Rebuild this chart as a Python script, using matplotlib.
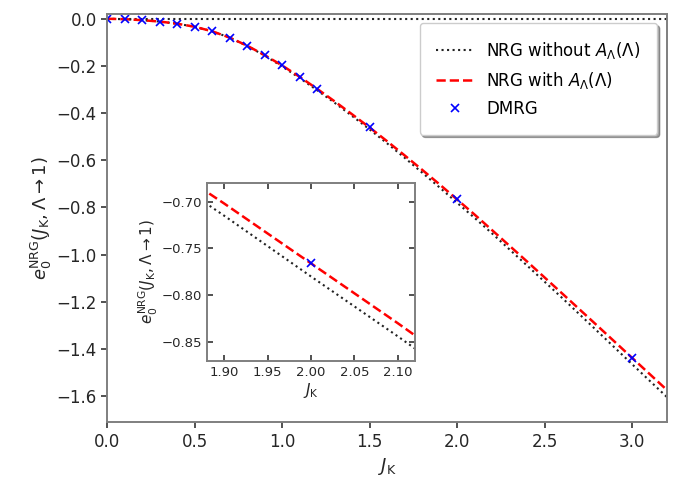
import matplotlib
matplotlib.use('Agg')
import matplotlib.pyplot as plt

# curve samples
J_LINE = [0.0, 0.1, 0.2, 0.3, 0.4, 0.5, 0.6, 0.7, 0.8, 0.9, 1.0, 1.1, 1.2, 1.3, 1.4, 1.5,
          1.6, 1.7, 1.8, 1.9, 2.0, 2.1, 2.2, 2.4, 2.6, 2.8, 3.0, 3.2]
E_WITH = [0.0, -0.002, -0.006, -0.012, -0.021, -0.034, -0.053, -0.080, -0.114, -0.154,
          -0.198, -0.246, -0.297, -0.350, -0.405, -0.461, -0.519, -0.579, -0.640, -0.702,
          -0.766, -0.830, -0.896, -1.029, -1.164, -1.300, -1.437, -1.574]
E_WITHOUT = [0.0, -0.002, -0.006, -0.012, -0.021, -0.034, -0.053, -0.080, -0.115, -0.156,
             -0.202, -0.251, -0.303, -0.356, -0.412, -0.469, -0.528, -0.589, -0.652, -0.715,
             -0.780, -0.844, -0.910, -1.046, -1.183, -1.323, -1.464, -1.604]

# DMRG points
J_DMRG = [0.0, 0.1, 0.2, 0.3, 0.4, 0.5, 0.6, 0.7, 0.8, 0.9, 1.0, 1.1, 1.2, 1.5, 2.0, 3.0]
E_DMRG = [0.0, -0.002, -0.006, -0.012, -0.021, -0.034, -0.053, -0.080, -0.114, -0.154,
          -0.198, -0.246, -0.297, -0.461, -0.766, -1.440]

SPINE_COLOR = '#7f7f7f'
YLABEL = r'$e_0^{\mathrm{NRG}}(J_\mathrm{K},\Lambda\to 1)$'


def style_ax(ax, direction, size):
    for s in ax.spines.values():
        s.set_color(SPINE_COLOR)
        s.set_linewidth(1.4)
    ax.tick_params(direction=direction, labelsize=size, color='#333333', width=1.2,
                   length=4, labelcolor='#262626')


def draw_lines(ax):
    ax.plot(J_LINE, E_WITHOUT, ls=':', color='#222222', lw=1.5, label=r'NRG without $A_\Lambda(\Lambda)$')
    ax.plot(J_LINE, E_WITH, ls='--', color='red', lw=1.8, label=r'NRG with $A_\Lambda(\Lambda)$')
    ax.plot(J_DMRG, E_DMRG, 'x', color='blue', ms=6, mew=1.2, ls='none', label='DMRG')


fig = plt.figure(figsize=(6.82, 4.83), dpi=100)
ax = fig.add_axes([0.157, 0.126, 0.821, 0.845])
ax.axhline(0.0, ls=':', color='#222222', lw=1.5, zorder=0)
draw_lines(ax)
ax.set_xlim(0, 3.2)
ax.set_ylim(-1.71, 0.02)
ax.set_xticks([0.0, 0.5, 1.0, 1.5, 2.0, 2.5, 3.0])
ax.set_yticks([0.0, -0.2, -0.4, -0.6, -0.8, -1.0, -1.2, -1.4, -1.6])
style_ax(ax, 'out', 12)
ax.set_xlabel(r'$J_\mathrm{K}$', fontsize=13, color='#262626')
ax.set_ylabel(YLABEL, fontsize=13, color='#262626', labelpad=2)
leg = ax.legend(loc='upper right', fontsize=12, fancybox=True, shadow=True, borderpad=1.0,
                labelspacing=0.55, handlelength=2.2, borderaxespad=0,
                bbox_to_anchor=(0.982, 0.978))
leg.get_frame().set_edgecolor('#cccccc')

# inset zoom around J_K = 2
axin = fig.add_axes([0.303, 0.253, 0.306, 0.3685])
draw_lines(axin)
axin.set_xlim(1.88, 2.12)
axin.set_ylim(-0.87, -0.68)
axin.set_xticks([1.90, 1.95, 2.00, 2.05, 2.10])
axin.set_yticks([-0.70, -0.75, -0.80, -0.85])
style_ax(axin, 'in', 9.5)
axin.tick_params(top=True, right=True, length=4)
axin.set_xlabel(r'$J_\mathrm{K}$', fontsize=11, color='#262626', labelpad=2)
axin.set_ylabel(YLABEL, fontsize=11, color='#262626', labelpad=1)

fig.savefig('out.png', dpi=100)
